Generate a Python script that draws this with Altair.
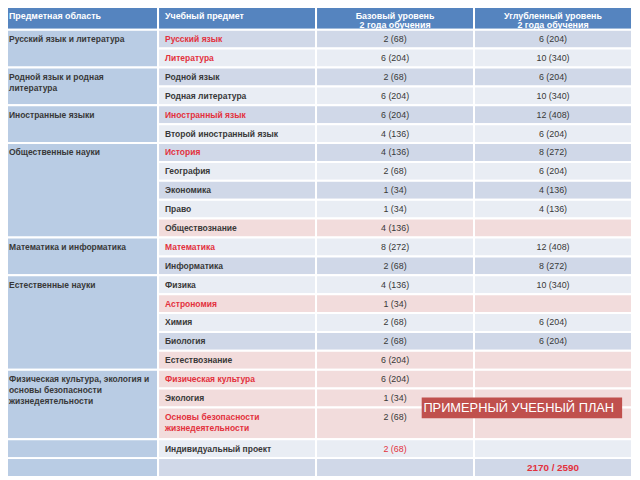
import altair as alt
import pandas as pd

# ---------------- data ----------------
headers = ["Предметная область", "Учебный предмет",
           "Базовый уровень\n2 года обучения", "Углубленный уровень\n2 года обучения"]

areas = ["Русский язык и литература",
         "Родной язык и родная\nлитература",
         "Иностранные языки",
         "Общественные науки",
         "Математика и информатика",
         "Естественные науки",
         "Физическая культура, экология и\nосновы безопасности\nжизнедеятельности",
         "",
         ""]
area_spans = [2, 2, 2, 5, 2, 5, 3, 1, 1]

subjects = ["Русский язык", "Литература", "Родной язык", "Родная литература",
            "Иностранный язык", "Второй иностранный язык", "История", "География",
            "Экономика", "Право", "Обществознание", "Математика", "Информатика",
            "Физика", "Астрономия", "Химия", "Биология", "Естествознание",
            "Физическая культура", "Экология",
            "Основы безопасности\nжизнедеятельности", "Индивидуальный проект", ""]
subject_red = [1, 1, 0, 0, 1, 0, 1, 0, 0, 0, 0, 1, 0, 0, 1, 0, 0, 0, 1, 0, 1, 0, 0]

base = ["2 (68)", "6 (204)", "2 (68)", "6 (204)", "6 (204)", "4 (136)", "4 (136)",
        "2 (68)", "1 (34)", "1 (34)", "4 (136)", "8 (272)", "2 (68)", "4 (136)",
        "1 (34)", "2 (68)", "2 (68)", "6 (204)", "6 (204)", "1 (34)", "2 (68)",
        "2 (68)", ""]
base_red = [0] * 21 + [1, 0]

advanced = ["6 (204)", "10 (340)", "6 (204)", "10 (340)", "12 (408)", "6 (204)",
            "8 (272)", "6 (204)", "4 (136)", "4 (136)", "", "12 (408)", "8 (272)",
            "10 (340)", "", "6 (204)", "6 (204)", "", "", "", "", "", ""]
total_text = "2170 / 2590"

highlight = [0, 0, 0, 0, 0, 0, 0, 0, 0, 0, 1, 0, 0, 0, 1, 0, 0, 1, 1, 1, 1, 0, 0]

stamp = "ПРИМЕРНЫЙ УЧЕБНЫЙ ПЛАН"

# ---------------- styles ----------------
C_HEAD = "#5584bf"
C_AREA = "#b9cce4"
C_DARK = "#d0d8e8"
C_LIGHT = "#e9edf4"
C_PINK = "#f2dcdc"
C_TEXT = "#383838"
C_RED = "#e3313d"
C_STAMP = "#c0504d"
FONT = "Liberation Sans"

# ---------------- layout (row units) ----------------
HEADER_U = 1.41
EXTRA_U = 0.68
row_h = [1 + EXTRA_U * s.count("\n") for s in subjects]
tops = []
acc = HEADER_U
for h in row_h:
    tops.append(acc)
    acc += h
TOTAL_U = acc
PX = 480 / TOTAL_U
LINE = 11 / PX

W, H = 632, 472
xs = alt.Scale(domain=[8 / 160, 4], range=[0, W], nice=False, zero=False)
ys = alt.Scale(domain=[8 / PX, TOTAL_U], range=[0, H], nice=False, zero=False)
COL0_X = 2 / 160  # keep first-column text clear of the page edge

# rectangles
rects = []
for c in range(4):
    rects.append(dict(x=c, x2=c + 1, y=0, y2=HEADER_U, fill=C_HEAD))
r = 0
for span in area_spans:
    rects.append(dict(x=0, x2=1, y=tops[r], y2=tops[r + span - 1] + row_h[r + span - 1], fill=C_AREA))
    r += span
for i in range(len(subjects)):
    fill = C_PINK if highlight[i] else (C_DARK if i % 2 == 0 else C_LIGHT)
    for c in (1, 2, 3):
        rects.append(dict(x=c, x2=c + 1, y=tops[i], y2=tops[i] + row_h[i], fill=fill))
rect_df = pd.DataFrame(rects)

# texts
left_rows, center_rows, head_left, head_center = [], [], [], []
head_left.append(dict(x=COL0_X, y=HEADER_U / 2, t=headers[0]))
head_left.append(dict(x=1, y=HEADER_U / 2, t=headers[1]))
for c in (2, 3):
    for k, ln in enumerate(headers[c].split("\n")):
        head_center.append(dict(x=c + 0.5, y=(12.7 + k * 9.3) / PX, t=ln))
r = 0
for a, span in zip(areas, area_spans):
    for k, ln in enumerate(a.split("\n")):
        if ln:
            left_rows.append(dict(x=COL0_X, y=tops[r] + 0.5 + k * LINE, t=ln, col=C_TEXT))
    r += span
for i, s in enumerate(subjects):
    for k, ln in enumerate(s.split("\n")):
        if ln:
            left_rows.append(dict(x=1, y=tops[i] + 0.5 + k * LINE, t=ln,
                                  col=C_RED if subject_red[i] else C_TEXT))
    if base[i]:
        center_rows.append(dict(x=2.5, y=tops[i] + 0.5, t=base[i],
                                col=C_RED if base_red[i] else C_TEXT))
    if advanced[i]:
        center_rows.append(dict(x=3.5, y=tops[i] + 0.5, t=advanced[i], col=C_TEXT))
last = len(subjects) - 1
total_df = pd.DataFrame([dict(x=3.5, y=tops[last] + 0.5, t=total_text)])

# stamp anchored to the "Экология" row
sr = subjects.index("Экология")
sx0, sx1 = 2 + 107 / 160, 3 + 150 / 160
stamp_df = pd.DataFrame([dict(x=sx0, x2=sx1,
                              y=tops[sr] + 0.47, y2=tops[sr] + 1.57,
                              tx=(sx0 + sx1) / 2 - 0.02,
                              ty=tops[sr] + 1.02, t=stamp)])

X = lambda f: alt.X(f, type="quantitative", scale=xs, axis=None)
Y = lambda f: alt.Y(f, type="quantitative", scale=ys, axis=None)

cells = alt.Chart(rect_df).mark_rect(stroke="white", strokeWidth=2).encode(
    x=X("x"), x2="x2", y=Y("y"), y2="y2",
    fill=alt.Fill("fill:N", scale=None))

hl = alt.Chart(pd.DataFrame(head_left)).mark_text(
    align="left", baseline="middle", dx=7, font=FONT, fontSize=9, fontWeight="bold",
    color="white").encode(x=X("x"), y=Y("y"), text="t:N")
hc = alt.Chart(pd.DataFrame(head_center)).mark_text(
    align="center", baseline="middle", font=FONT, fontSize=9, fontWeight="bold",
    color="white").encode(x=X("x"), y=Y("y"), text="t:N")
lt = alt.Chart(pd.DataFrame(left_rows)).mark_text(
    align="left", baseline="middle", dx=7, font=FONT, fontSize=8.6, fontWeight="bold").encode(
    x=X("x"), y=Y("y"), text="t:N", color=alt.Color("col:N", scale=None))
ct = alt.Chart(pd.DataFrame(center_rows)).mark_text(
    align="center", baseline="middle", font=FONT, fontSize=9).encode(
    x=X("x"), y=Y("y"), text="t:N", color=alt.Color("col:N", scale=None))
tt = alt.Chart(total_df).mark_text(
    align="center", baseline="middle", font=FONT, fontSize=10, fontWeight="bold",
    color=C_RED).encode(x=X("x"), y=Y("y"), text="t:N")
sb = alt.Chart(stamp_df).mark_rect(color=C_STAMP).encode(
    x=X("x"), x2="x2", y=Y("y"), y2="y2")
st = alt.Chart(stamp_df).mark_text(
    align="center", baseline="middle", font=FONT, fontSize=13, color="white").encode(
    x=X("tx"), y=Y("ty"), text="t:N")

chart = alt.layer(cells, hl, hc, lt, ct, tt, sb, st).properties(
    width=W, height=H, padding=0, autosize="none", background="white"
).configure_view(stroke=None)

chart.save("out.html", embed_options={"renderer": "svg", "actions": False})
